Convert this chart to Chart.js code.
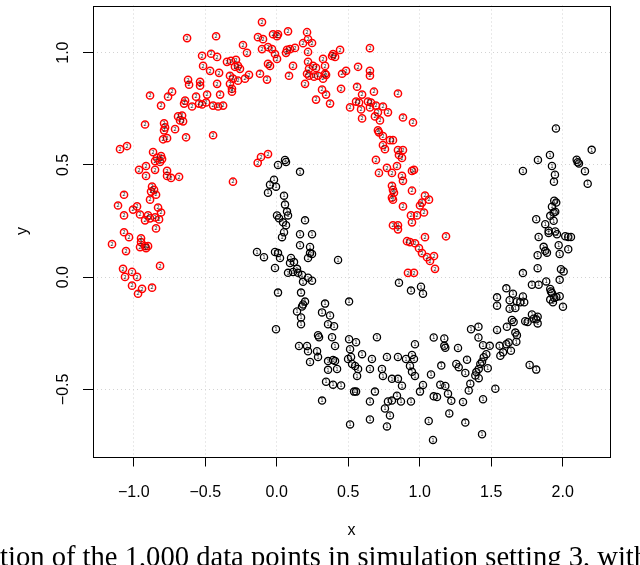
<!DOCTYPE html>
<html>
<head>
<meta charset="utf-8">
<script src="https://cdn.jsdelivr.net/npm/chart.js@4.4.0/dist/chart.umd.min.js"></script>
<style>
  html, body { margin: 0; padding: 0; background: #fff; }
  #wrap { position: relative; width: 640px; height: 565px; overflow: hidden; }
  #caption {
    position: absolute; left: 0; top: 543px;
    font-family: "Liberation Serif", serif; font-size: 28.6px; line-height: 28px;
    white-space: nowrap; color: #000;
  }
</style>
</head>
<body>
<div id="wrap">
  <canvas id="moons" width="640" height="565"></canvas>
  <div id="caption">tion of the 1,000 data points in simulation setting 3, with</div>
</div>
<script>
// --- Data: class 2 (upper moon, red) ---
const moon2X = [-0.627,-0.424,-0.236,-0.208,-0.522,-0.459,-0.417,-0.348,-0.320,-0.285,-0.271,-0.292,-0.257,-0.515,-0.466,-0.403,-0.327,-0.306,-0.271,-0.222,-0.194,-0.620,-0.613,-0.536,-0.536,-0.417,-0.327,-0.313,-0.313,-0.732,-0.760,-0.886,-0.809,-0.564,-0.487,-0.396,-0.641,-0.648,-0.592,-0.543,-0.522,-0.494,-0.445,-0.410,-0.375,-0.690,-0.662,-0.676,-0.655,-0.921,-0.788,-0.781,-0.788,-0.711,-0.795,-0.767,-0.634,-0.445,-1.096,-1.047,-0.865,-0.809,-0.802,-0.816,-0.851,-0.837,-0.914,-0.963,-0.914,-0.851,-0.767,-0.767,-0.739,-0.683,-0.306,-0.872,-0.858,-0.879,-0.844,-0.886,-1.068,-1.110,-1.005,-0.977,-0.956,-1.068,-0.830,-0.809,-0.900,-0.886,-0.851,-0.921,-0.823,-0.844,-1.068,-0.131,-0.133,-1.033,-1.152,-1.054,-0.949,-0.949,-0.956,-0.921,-0.900,-0.914,-0.816,-1.075,-1.061,-1.012,-0.977,-1.012,-0.942,-0.872,-0.970,-0.103,-0.096,-0.026,0.002,0.009,0.079,0.212,0.219,0.247,-0.103,-0.061,-0.033,-0.012,0.002,0.072,0.065,0.093,0.128,0.184,0.219,-0.117,-0.068,-0.061,-0.047,0.086,0.114,0.219,0.254,0.275,0.226,0.212,0.226,0.198,0.261,0.289,0.338,0.324,0.345,0.324,0.338,0.387,0.408,0.443,0.394,0.317,0.345,0.275,0.373,0.450,0.652,0.457,0.485,0.569,0.652,0.652,0.562,0.597,0.680,0.848,0.513,0.555,0.576,0.590,0.597,0.638,0.659,0.652,0.694,0.708,0.743,0.778,0.687,0.883,0.953,0.722,0.708,0.715,0.743,0.743,0.757,0.792,0.813,0.848,0.883,0.855,0.876,0.841,0.771,0.806,0.715,0.694,0.876,0.883,0.946,0.960,0.946,0.806,0.813,0.820,0.806,0.813,0.883,0.939,0.946,0.981,0.813,0.848,0.848,-0.110,-0.061,1.037,1.065,1.016,1.002,1.030,1.037,1.184,0.995,1.016,1.051,1.072,1.100,1.107,0.911,0.932,0.967,0.918,0.960];
const moon2Y = [1.065,1.073,1.034,0.999,0.986,0.995,0.981,0.959,0.963,0.968,0.941,0.937,0.928,0.941,0.919,0.910,0.897,0.884,0.875,0.884,0.901,0.879,0.857,0.870,0.853,0.861,0.861,0.839,0.826,0.826,0.804,0.809,0.764,0.804,0.813,0.813,0.786,0.773,0.760,0.773,0.769,0.778,0.764,0.760,0.764,0.716,0.720,0.698,0.694,0.680,0.685,0.667,0.654,0.659,0.614,0.619,0.623,0.632,0.570,0.584,0.557,0.539,0.526,0.513,0.517,0.531,0.495,0.478,0.451,0.478,0.473,0.451,0.442,0.447,0.425,0.403,0.389,0.381,0.367,0.345,0.367,0.319,0.301,0.315,0.279,0.275,0.310,0.288,0.275,0.262,0.266,0.253,0.257,0.217,0.200,1.069,0.509,0.178,0.147,0.116,0.173,0.156,0.134,0.138,0.138,0.129,0.050,0.037,0.001,0.023,0.001,-0.038,-0.052,-0.047,-0.074,1.136,1.060,1.082,1.073,1.082,1.095,1.091,1.060,1.043,1.016,1.025,1.016,0.994,0.972,1.012,0.999,1.016,1.021,1.042,1.003,0.906,0.880,0.950,0.941,0.897,0.941,0.959,0.941,0.932,0.928,0.906,0.897,0.861,0.893,0.897,0.906,0.884,0.901,0.972,0.941,0.985,0.981,1.012,0.994,0.835,0.813,0.791,0.773,0.839,1.020,0.906,0.919,0.937,0.919,0.897,0.848,0.813,0.826,0.818,0.756,0.782,0.778,0.747,0.707,0.782,0.778,0.756,0.764,0.734,0.760,0.734,0.716,0.711,0.689,0.698,0.654,0.645,0.628,0.588,0.570,0.610,0.610,0.566,0.566,0.544,0.531,0.495,0.487,0.464,0.464,0.522,0.451,0.429,0.473,0.478,0.385,0.407,0.389,0.376,0.354,0.345,0.315,0.275,0.244,0.275,0.231,0.231,0.213,0.535,0.548,0.363,0.345,0.332,0.319,0.288,0.178,0.182,0.129,0.107,0.089,0.072,0.094,0.037,0.160,0.156,0.151,0.019,0.019];

// --- Data: class 1 (lower moon, black) ---
const moon1X = [0.009,0.058,0.065,0.163,-0.019,-0.005,-0.047,-0.061,0.051,0.058,0.072,0.002,0.016,0.079,0.044,0.065,0.198,0.037,0.051,0.163,0.247,0.163,0.233,0.233,0.247,0.219,-0.138,-0.089,-0.012,0.009,0.023,-0.012,0.100,0.093,0.121,0.079,0.114,0.142,0.149,0.177,0.184,0.219,0.247,0.429,0.009,0.170,0.198,0.184,0.177,0.142,0.170,0.170,-0.005,0.338,0.317,0.373,0.359,0.401,0.506,0.289,0.296,0.387,0.408,0.506,0.555,0.701,0.156,0.212,0.219,0.282,0.289,0.233,0.359,0.394,0.408,0.422,0.359,0.499,0.527,0.548,0.569,0.562,0.597,0.666,0.652,0.345,0.394,0.450,0.317,0.541,0.555,0.513,0.520,0.652,0.687,0.778,0.806,0.869,0.939,0.757,0.792,0.513,0.652,0.771,0.736,0.743,0.806,0.848,0.876,0.841,0.848,0.904,0.946,0.960,0.932,0.946,0.967,0.967,0.855,0.939,0.771,1.023,1.002,1.009,1.023,1.098,1.172,1.172,1.179,1.268,1.151,1.079,1.144,1.179,1.198,1.098,1.121,1.221,1.303,1.207,1.063,1.319,1.093,1.436,1.256,1.273,1.319,1.331,1.359,1.411,1.411,1.443,1.490,1.466,1.448,1.436,1.424,1.476,1.413,1.396,1.413,1.389,1.354,1.343,1.443,1.529,1.541,1.559,1.583,1.564,1.606,1.622,1.638,1.676,1.680,1.669,1.657,1.645,1.610,1.629,1.669,1.629,1.606,1.652,1.722,1.703,1.731,1.680,1.541,1.541,1.738,1.755,1.785,1.797,1.815,1.825,1.825,1.722,1.785,1.832,1.885,1.913,1.918,1.925,1.941,1.955,1.979,1.913,1.932,1.979,2.002,1.832,1.902,1.960,2.018,2.039,2.058,1.867,1.878,1.890,1.825,1.825,1.972,1.979,2.039,1.988,2.007,1.769,1.815,1.953,1.911,1.827,1.722,1.925,1.946,1.939,1.941,1.955,1.925,1.937,1.948,1.913,1.937,1.815,1.878,1.902,1.948,2.203,2.098,2.105,2.114,2.156,2.175];
const moon1Y = [0.500,0.522,0.513,0.469,0.434,0.403,0.412,0.376,0.363,0.323,0.292,0.275,0.262,0.275,0.244,0.231,0.253,0.178,0.200,0.191,0.191,0.142,0.134,0.107,0.103,0.085,0.112,0.089,0.112,0.107,0.085,0.041,0.085,0.063,0.067,0.019,0.023,0.037,0.019,0.010,-0.021,-0.003,-0.016,0.076,-0.069,-0.069,-0.109,-0.122,-0.131,-0.153,-0.180,-0.210,-0.232,-0.118,-0.157,-0.171,-0.210,-0.219,-0.109,-0.259,-0.268,-0.268,-0.307,-0.277,-0.290,-0.268,-0.307,-0.307,-0.330,-0.330,-0.356,-0.378,-0.374,-0.369,-0.374,-0.409,-0.413,-0.365,-0.387,-0.396,-0.409,-0.440,-0.343,-0.365,-0.409,-0.466,-0.479,-0.483,-0.550,-0.510,-0.510,-0.321,-0.356,-0.554,-0.510,-0.554,-0.550,-0.554,-0.554,-0.585,-0.616,-0.656,-0.634,-0.665,-0.409,-0.440,-0.453,-0.453,-0.484,-0.528,-0.356,-0.365,-0.347,-0.365,-0.396,-0.422,-0.440,-0.299,-0.025,-0.060,-0.356,-0.480,-0.510,-0.043,-0.074,-0.269,-0.273,-0.306,-0.315,-0.316,-0.394,-0.434,-0.479,-0.485,-0.519,-0.531,-0.534,-0.551,-0.556,-0.607,-0.641,-0.648,-0.725,-0.700,-0.387,-0.401,-0.427,-0.368,-0.232,-0.221,-0.269,-0.303,-0.306,-0.343,-0.357,-0.377,-0.387,-0.406,-0.409,-0.423,-0.450,-0.438,-0.475,-0.505,-0.544,-0.497,-0.235,-0.306,-0.335,-0.350,-0.299,-0.291,-0.328,-0.288,-0.259,-0.247,-0.200,-0.191,-0.221,-0.141,-0.138,-0.103,-0.050,-0.074,-0.086,-0.112,-0.112,-0.108,-0.090,-0.127,-0.196,-0.200,-0.166,-0.185,-0.188,-0.206,-0.176,0.018,-0.034,-0.034,-0.019,-0.053,-0.064,-0.071,-0.093,-0.088,-0.085,-0.100,-0.112,-0.012,-0.132,0.179,0.197,0.191,0.182,0.179,0.179,0.135,0.117,0.109,0.098,0.040,0.142,0.103,0.124,0.035,0.025,-0.391,-0.412,0.662,0.544,0.522,0.473,0.495,0.456,0.425,0.340,0.332,0.314,0.288,0.291,0.273,0.251,0.258,0.236,0.207,0.203,0.567,0.523,0.512,0.506,0.472,0.416];

// --- Axes ---
const xTicks = [-1.0, -0.5, 0.0, 0.5, 1.0, 1.5, 2.0];
const xTickLabels = ['\u22121.0', '\u22120.5', '0.0', '0.5', '1.0', '1.5', '2.0'];
const yTicks = [-0.5, 0.0, 0.5, 1.0];
const yTickLabels = ['\u22120.5', '0.0', '0.5', '1.0'];
const xRange = [-1.285, 2.331];
const yRange = [-0.799, 1.210];

const toPoints = (xs, ys) => xs.map((x, i) => ({ x: x, y: ys[i] }));
const axisFont = { family: 'Liberation Sans', size: 16 };

// digits drawn inside each circle, like R's text() labels
const digitPlugin = {
    id: 'digits',
    afterDatasetsDraw(chart) {
        const ctx = chart.ctx;
        ctx.save();
        ctx.fillStyle = '#222';
        ctx.font = '5.5px "DejaVu Sans"';
        ctx.textAlign = 'center';
        ctx.textBaseline = 'middle';
        chart.data.datasets.forEach((ds, di) => {
            chart.getDatasetMeta(di).data.forEach(pt => ctx.fillText(ds.digit, pt.x, pt.y + 0.3));
        });
        ctx.restore();
    }
};

// R style box around the plot region
const boxPlugin = {
    id: 'box',
    afterDraw(chart) {
        const { ctx, chartArea: a } = chart;
        ctx.save();
        ctx.strokeStyle = '#000';
        ctx.lineWidth = 1;
        ctx.strokeRect(Math.round(a.left) + 0.5, Math.round(a.top) + 0.5,
            Math.round(a.right - a.left), Math.round(a.bottom - a.top));
        ctx.restore();
    }
};

new Chart(document.getElementById('moons'), {
    type: 'scatter',
    data: {
        datasets: [
            {
                label: '2', digit: '2',
                data: toPoints(moon2X, moon2Y),
                pointStyle: 'circle', pointRadius: 3.6, pointBorderWidth: 1.5,
                borderColor: '#ff0000', backgroundColor: 'rgba(0,0,0,0)'
            },
            {
                label: '1', digit: '1',
                data: toPoints(moon1X, moon1Y),
                pointStyle: 'circle', pointRadius: 3.6, pointBorderWidth: 1.3,
                borderColor: '#000000', backgroundColor: 'rgba(0,0,0,0)'
            }
        ]
    },
    options: {
        responsive: false,
        animation: false,
        layout: { padding: { top: 1, right: 30, bottom: 0, left: 0 } },
        plugins: { legend: { display: false }, tooltip: { enabled: false } },
        events: [],
        scales: {
            x: {
                type: 'linear', min: xRange[0], max: xRange[1],
                afterBuildTicks: s => { s.ticks = xTicks.map(v => ({ value: v })); },
                afterFit: s => { s.height = 108.5; s.paddingLeft = 0; s.paddingRight = 0; },
                ticks: {
                    callback: (v, i) => xTickLabels[i],
                    font: axisFont, color: '#000', padding: 16,
                    maxRotation: 0, autoSkip: false
                },
                grid: {
                    color: '#d3d3d3', lineWidth: 1,
                    tickLength: 10, tickColor: '#000', tickWidth: 1, tickBorderDash: []
                },
                border: { display: false, dash: [1, 3] },
                title: { display: true, text: 'x', font: axisFont, color: '#000', padding: { top: 0, bottom: 25 } }
            },
            y: {
                type: 'linear', min: yRange[0], max: yRange[1],
                afterBuildTicks: s => { s.ticks = yTicks.map(v => ({ value: v })); },
                afterFit: s => { s.width = 93; s.paddingTop = 0; s.paddingBottom = 0; },
                ticks: {
                    callback: (v, i) => yTickLabels[i],
                    font: axisFont, color: '#000', padding: 4,
                    minRotation: 90, maxRotation: 90, crossAlign: 'center', autoSkip: false
                },
                grid: {
                    color: '#d3d3d3', lineWidth: 1,
                    tickLength: 10, tickColor: '#000', tickWidth: 1, tickBorderDash: []
                },
                border: { display: false, dash: [1, 3] },
                title: { display: true, text: 'y', font: axisFont, color: '#000', padding: { top: 13, bottom: 0 } }
            }
        }
    },
    plugins: [digitPlugin, boxPlugin]
});
</script>
</body>
</html>
